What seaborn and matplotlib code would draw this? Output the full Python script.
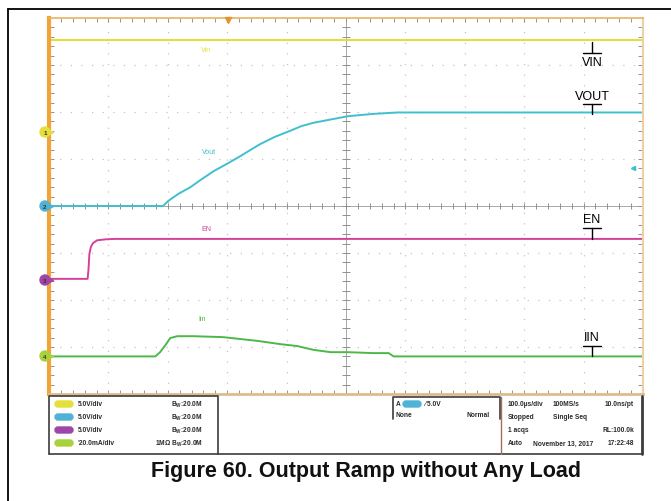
import matplotlib.pyplot as plt
import pandas as pd
import seaborn as sns
from matplotlib.patches import Circle, FancyBboxPatch

# scope capture: 100 us/div horizontally, traces read in screen divisions (centre line = 0)
vin_t = [0, 1000]
vin_div = [3.53, 3.53]

vout_t = [0, 192, 201, 218, 238, 257, 277, 300, 322, 340, 356, 380, 406, 425, 445, 474, 503, 546, 587, 1000]
vout_div = [0.0, 0.0, 0.11, 0.26, 0.40, 0.57, 0.74, 0.90, 1.06, 1.20, 1.32, 1.47, 1.60, 1.70,
            1.77, 1.84, 1.91, 1.96, 1.99, 1.99]

en_t = [0, 65, 66.5, 68, 70.5, 74, 81, 94.5, 111, 1000]
en_div = [-1.55, -1.55, -1.35, -1.02, -0.87, -0.79, -0.73, -0.71, -0.70, -0.70]

iin_t = [0, 179, 187, 196, 204, 216, 243, 293, 322, 351, 390, 418, 445, 474, 503, 546, 572, 580, 1000]
iin_div = [-3.20, -3.20, -3.11, -2.96, -2.81, -2.77, -2.77, -2.79, -2.83, -2.87, -2.94, -2.98,
           -3.06, -3.11, -3.11, -3.13, -3.13, -3.20, -3.20]

trace_names = ["VIN", "VOUT", "EN", "IIN"]
trace_colors = ["#e2e030", "#3fbfcf", "#d4409a", "#4cb848"]
marker_colors = ["#e6df3a", "#4fb3d6", "#a045a8", "#a8d23c"]
marker_rows = [133, 207, 281, 357]          # pixel rows of channel ground markers

ch_scales = ["5.0V/div", "5.0V/div", "5.0V/div", "\u201920.0mA/div"]
ch_bw = ["$\\mathregular{B_W}$:20.0M", "$\\mathregular{B_W}$:20.0M",
         "$\\mathregular{B_W}$:20.0M", "1M\u03a9 $\\mathregular{B_W}$:20.0M"]
acq_rows = [("100.0\u00b5s/div", "100MS/s", "10.0ns/pt"),
            ("Stopped", "Single Seq", ""),
            ("1 acqs", "", "RL:100.0k"),
            ("Auto", "November 13, 2017", "17:22:48")]

W, H = 671, 502
sns.set_theme(style="white")
plt.rcParams["font.family"] = ["Liberation Sans", "DejaVu Sans"]

fig = plt.figure(figsize=(W / 100, H / 100), dpi=100)
GX0, GX1, GY0, GY1 = 49, 643, 19, 395
ax = fig.add_axes([GX0 / W, 1 - GY1 / H, (GX1 - GX0) / W, (GY1 - GY0) / H])
ax.set_xlim(0, 1000)
ax.set_ylim(-4, 4)
ax.set_xticks([])
ax.set_yticks([])

# graticule
for k in range(1, 10):
    if k != 5:
        ax.axvline(k * 100, color="#c4c4c4", lw=0.9, ls=(0, (1, 7.5)), zorder=0)
for k in range(-3, 4):
    if k != 0:
        ax.axhline(k, color="#c4c4c4", lw=0.9, ls=(0, (1, 7.5)), zorder=0)
ax.axvline(500, color="#a8a8a8", lw=0.7, zorder=0)
ax.axhline(0, color="#a8a8a8", lw=0.7, zorder=0)
xt = [i * 20 for i in range(1, 50)]
yt = [-4 + i * 0.2 for i in range(1, 40)]
ax.vlines(xt, -0.06, 0.06, color="#909090", lw=0.7, zorder=0)
ax.hlines(yt, 494, 506, color="#909090", lw=0.7, zorder=0)
ax.vlines(xt, -4, -3.92, color="#a09080", lw=0.7)
ax.vlines(xt, 3.92, 4, color="#a09080", lw=0.7)
ax.hlines(yt, 0, 9, color="#a09080", lw=0.7)
ax.hlines(yt, 991, 1000, color="#a09080", lw=0.7)
for s, c, w in [("left", "#f2a437", 3), ("top", "#eab060", 1.2),
                ("bottom", "#dcbc8e", 2), ("right", "#ecd0a6", 1.5)]:
    ax.spines[s].set_color(c)
    ax.spines[s].set_linewidth(w)

traces = [(vin_t, vin_div), (vout_t, vout_div), (en_t, en_div), (iin_t, iin_div)]
for (t, v), name, col in zip(traces, trace_names, trace_colors):
    df = pd.DataFrame({"t": t, "v": v})
    sns.lineplot(data=df, x="t", y="v", ax=ax, color=col, lw=1.4, estimator=None)
ax.set_xlabel("")
ax.set_ylabel("")

# small channel labels on the screen
for name, col, (x, y) in zip(["Vin", "Vout", "EN", "Iin"], trace_colors,
                             [(265, 3.34), (270, 1.15), (265, -0.48), (258, -2.40)]):
    ax.text(x, y, name, color=col, fontsize=5, ha="center", va="center")

# overlay in pixel coordinates
ov = fig.add_axes([0, 0, 1, 1], zorder=5)
ov.set_xlim(0, W)
ov.set_ylim(H, 0)
ov.axis("off")
ov.patch.set_alpha(0)

ov.plot([8, W], [10, 10], color="black", lw=1.3)
ov.plot([8, 8], [10, H], color="black", lw=1.3)

for i, (y, col) in enumerate(zip(marker_rows, marker_colors)):
    ov.add_patch(Circle((45, y), 5, color=col, zorder=6))
    ov.text(45, y + 0.3, str(i + 1), fontsize=4.5, ha="center", va="center", zorder=7,
            color="#333333", fontweight="bold")
    ov.plot([51], [y], marker=">", ms=3, color=col, zorder=6)
ov.plot([228], [21], marker="v", ms=5, color="#e8922a")
ov.plot([633], [169], marker="<", ms=3, color=trace_colors[1])

# annotations
for name, ytxt, ybar, ystem in [("VIN", 63, 54, 43), ("VOUT", 97, 105, 115),
                                ("EN", 220, 229, 240), ("IIN", 338, 347, 357)]:
    ov.plot([583, 601], [ybar, ybar], color="black", lw=1)
    ov.plot([592, 592], [ybar, ystem], color="black", lw=1)
    ov.text(592, ytxt, name, fontsize=9, ha="center", va="center", color="black")

# info panel
pk = dict(color="#3c3c3c", lw=1.2)
ov.plot([49, 49, 218, 218], [455, 397, 397, 455], **pk)
ov.plot([49, 642], [455, 455], **pk)
ov.plot([393, 393, 500, 500], [420, 398, 398, 420], **pk)
ov.plot([501, 501], [398, 455], color="#a07060", lw=1)
ov.plot([642, 642], [397, 455], color="#3c3c3c", lw=2)
tk = dict(fontsize=4.8, color="#2a2a2a", va="center", fontweight="bold")
for i, y in enumerate([405, 418, 431, 444]):
    ov.add_patch(FancyBboxPatch((55, y - 3), 18, 6, boxstyle="round,pad=0,rounding_size=3",
                                color=marker_colors[i]))
    ov.text(78, y, ch_scales[i], **tk)
    ov.text(203, y, ch_bw[i], ha="right", **tk)
ov.add_patch(FancyBboxPatch((403, 402), 18, 6, boxstyle="round,pad=0,rounding_size=3",
                            color=marker_colors[1]))
ov.text(396, 405, "A", **tk)
ov.text(424, 405, "\u2215 5.0V", **tk)
ov.text(396, 416, "None", **tk)
ov.text(490, 416, "Normal", ha="right", **tk)
for (a, b, c), y in zip(acq_rows, [405, 418, 431, 444]):
    ov.text(508, y, a, **tk)
    ov.text(553 if y < 440 else 533, y, b, **tk)
    ov.text(634, y, c, ha="right", **tk)

ov.text(366, 472, "Figure 60. Output Ramp without Any Load", fontsize=15.5,
        fontweight="bold", ha="center", va="center", color="#111111")

fig.savefig("out.png", dpi=100)
